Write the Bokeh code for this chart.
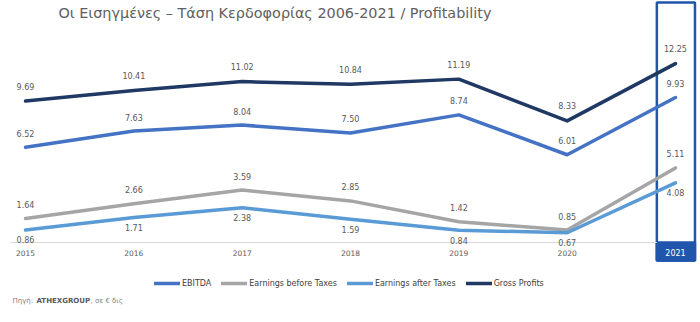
from bokeh.plotting import figure
from bokeh.models import Range1d, Legend, LegendItem, Label, ColumnDataSource
from bokeh.core.properties import value
from bokeh.embed import file_html
from bokeh.resources import INLINE

years = [2015, 2016, 2017, 2018, 2019, 2020, 2021]
year_labels = ["2015", "2016", "2017", "2018", "2019", "2020", "2021"]
ebitda = [6.52, 7.63, 8.04, 7.50, 8.74, 6.01, 9.93]
ebt = [1.64, 2.66, 3.59, 2.85, 1.42, 0.85, 5.11]
eat = [0.86, 1.71, 2.38, 1.59, 0.84, 0.67, 4.08]
gross = [9.69, 10.41, 11.02, 10.84, 11.19, 8.33, 12.25]

series_names = ["EBITDA", "Earnings before Taxes", "Earnings after Taxes", "Gross Profits"]
series_values = [ebitda, ebt, eat, gross]
series_colors = ["#4472C4", "#A5A5A5", "#5B9BD5", "#1F3864"]
label_offsets = [-14, -14, 10, -15]

title_text = "Οι Εισηγμένες – Τάση Κερδοφορίας 2006-2021 / Profitability"
FONT = "DejaVu Sans"
W, H = 700, 322

p = figure(width=W, height=H, output_backend="svg", toolbar_location=None,
           x_range=Range1d(2014.769, 2021.231), y_range=Range1d(-5.479, 16.575),
           min_border=0, min_border_left=0, min_border_right=0,
           min_border_top=0, min_border_bottom=0)
p.axis.visible = False
p.grid.visible = False
p.outline_line_color = None
p.background_fill_color = "white"
p.border_fill_color = "white"

# 2021 highlight box
last = years[-1]
p.quad(left=[last - 0.172], right=[last + 0.18], top=[16.44], bottom=[-1.23],
       fill_color=None, line_color="#1F55AA", line_width=2.5)
p.quad(left=[last - 0.172], right=[last + 0.18], top=[0], bottom=[-1.23],
       fill_color="#1F55AA", line_color="#1F55AA", line_width=2.5)

# baseline
p.segment(x0=[years[0] - 0.14], x1=[last - 0.172], y0=[0], y1=[0],
          line_color="#D9D9D9", line_width=1)

renderers = []
for name, vals, col, off in zip(series_names, series_values, series_colors, label_offsets):
    src = ColumnDataSource(dict(x=years, y=vals, t=[f"{v:.2f}" for v in vals]))
    r = p.line("x", "y", source=src, line_color=col, line_width=3.5,
               line_join="round", line_cap="round")
    renderers.append(r)
    p.text("x", "y", text="t", source=src, text_font=value(FONT), text_font_size="8px",
           text_color="#595959", text_align="center", text_baseline="middle",
           y_offset=off)

# x tick labels
p.text(x=years[:-1], y=[0] * (len(years) - 1), text=year_labels[:-1],
       text_font=value(FONT), text_font_size="7.5px", text_color="#595959",
       text_align="center", text_baseline="middle", y_offset=10)
p.text(x=[years[-1]], y=[0], text=[year_labels[-1]],
       text_font=value(FONT), text_font_size="8px", text_color="white",
       text_align="center", text_baseline="middle", y_offset=10)

# legend
legend = Legend(items=[LegendItem(label=n, renderers=[r]) for n, r in zip(series_names, renderers)],
                orientation="horizontal", location=(154, 34),
                glyph_width=26, glyph_height=8, label_height=10, label_standoff=2,
                spacing=10, padding=0, margin=0,
                label_text_font=FONT, label_text_font_size="8px", label_text_color="#404040",
                border_line_color=None, background_fill_alpha=0)
p.add_layout(legend, "center")

# title
p.add_layout(Label(x=58, y=H - 12, x_units="screen", y_units="screen", text=title_text,
                   text_font=FONT, text_font_size="14.4px", text_color="#606060",
                   text_baseline="middle"))
# source
p.add_layout(Label(x=12, y=H - 300, x_units="screen", y_units="screen", text="Πηγή:",
                   text_font=FONT, text_font_size="7px", text_color="#7F7F7F",
                   text_baseline="middle"))
p.add_layout(Label(x=36, y=H - 300, x_units="screen", y_units="screen", text="ATHEXGROUP",
                   text_font=FONT, text_font_size="7px", text_color="#595959",
                   text_font_style="bold", text_baseline="middle"))
p.add_layout(Label(x=90, y=H - 300, x_units="screen", y_units="screen", text=", σε € δις",
                   text_font=FONT, text_font_size="7px", text_color="#7F7F7F",
                   text_baseline="middle"))

open("out.html", "w").write(file_html(p, INLINE))
